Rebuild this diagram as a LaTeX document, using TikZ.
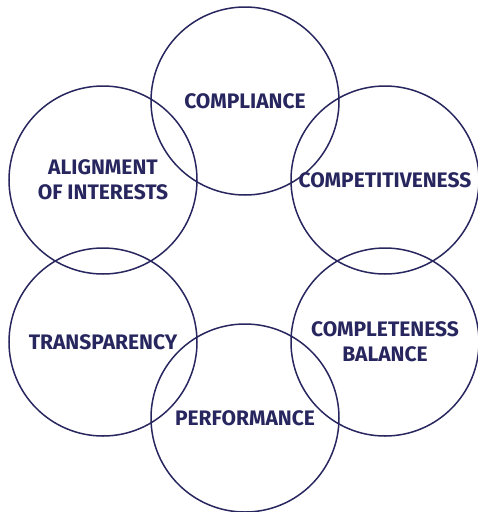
\documentclass[tikz,border=0pt]{standalone}
\usepackage{fontspec}
\setmainfont{Fira Sans}
\usetikzlibrary{positioning}
\definecolor{navy}{RGB}{40,38,94}
\tikzset{
ring/.style={
draw=navy,
line width=1.5pt,
circle,minimum size=188pt,inner sep=0pt,align=center,
text=navy,font={\fontsize{21pt}{25pt}\selectfont\bfseries}}
}

\begin{document}
\begin{tikzpicture}[x=1pt,y=-1pt]
  \useasboundingbox (0,0) rectangle (478,512);
  \node[ring] (compliance) at (245,101) {COMPLIANCE};
  \node[ring] (competitiveness) at (385,180) {COMPETITIVENESS};
  \node[ring] (alignment) at (103,180) {ALIGNMENT\\OF INTERESTS};
  \node[ring] (transparency) at (103,342) {TRANSPARENCY};
  \node[ring] (completeness) at (385,342) {COMPLETENESS\\BALANCE};
  \node[ring] (performance) at (245,418) {PERFORMANCE};
\end{tikzpicture}
\end{document}
